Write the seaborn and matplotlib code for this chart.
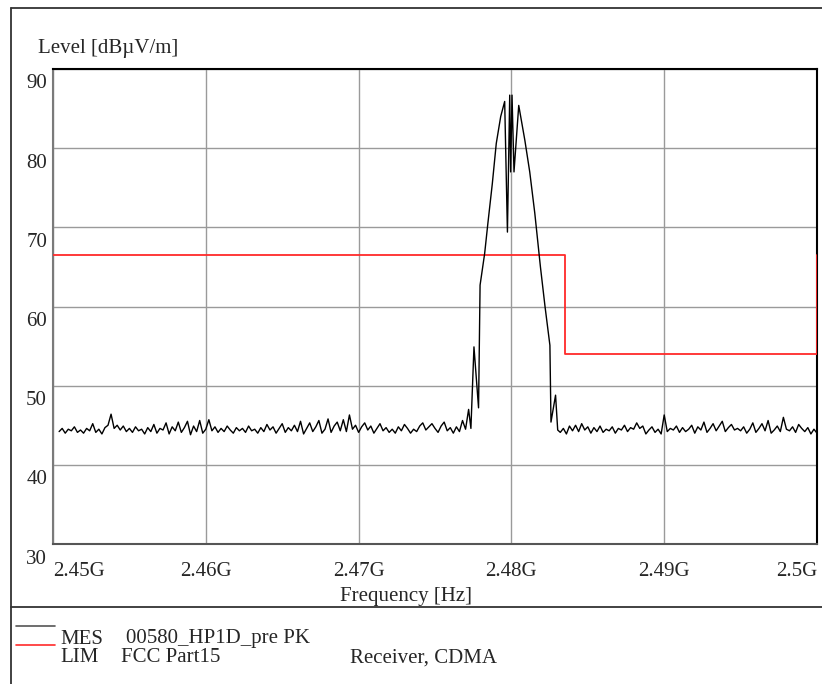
import numpy as np
import pandas as pd
import matplotlib
matplotlib.use("Agg")
import matplotlib.pyplot as plt
from matplotlib.lines import Line2D
from matplotlib import transforms
import seaborn as sns

sns.set_style("white")
plt.rcParams["font.family"] = ["Liberation Serif", "DejaVu Serif"]

# ---------------- data ----------------
# left noise floor: 2450.4 .. 2477.0 MHz, 0.2 MHz step
noise_left = [
    44.2, 44.6, 44.0, 44.5, 44.3, 44.8, 44.1, 44.4, 44.0, 44.6,
    44.3, 45.2, 44.1, 44.5, 43.9, 44.7, 45.0, 46.4, 44.6, 45.0,
    44.4, 44.9, 44.2, 44.6, 44.1, 44.8, 44.3, 44.5, 43.9, 44.7,
    44.2, 45.1, 44.0, 44.6, 44.4, 45.3, 43.9, 44.8, 44.3, 45.4,
    44.1, 44.7, 45.5, 43.8, 44.9, 44.2, 45.6, 44.0, 44.5, 45.7,
    44.3, 44.8, 44.1, 44.6, 44.2, 44.9, 44.4, 44.0, 44.7, 44.3,
    44.6, 44.1, 44.9, 44.3, 44.5, 44.0, 44.7, 44.2, 45.1, 44.4,
    44.8, 44.0, 44.6, 45.2, 44.1, 44.7, 44.3, 45.0, 44.2, 45.5,
    43.9, 44.6, 45.3, 44.2, 44.8, 45.6, 44.0, 44.5, 45.8, 44.1,
    44.9, 45.4, 44.3, 45.7, 44.2, 46.3, 44.5, 45.0, 44.1, 44.8,
    45.3, 44.4, 44.9, 44.0, 44.6, 45.2, 44.3, 44.7, 44.1, 44.5,
    44.0, 44.8, 44.3, 45.1, 44.6, 44.0, 44.5, 44.2, 44.9, 45.3,
    44.4, 44.8, 45.2, 44.6, 44.1, 44.9, 45.4, 44.3, 44.7, 44.0,
    44.8, 44.2, 45.6, 44.5,
]
# carrier region, explicit frequencies (MHz)
peak_freq = [2477.2, 2477.35, 2477.55, 2477.85, 2477.95, 2478.25, 2478.46,
             2478.75, 2479.01, 2479.30, 2479.56, 2479.74, 2479.89, 2479.95,
             2480.04, 2480.17, 2480.48, 2480.88, 2481.2, 2481.53, 2481.9,
             2482.2, 2482.52, 2482.59, 2482.89, 2483.03]
peak_level = [47.0, 44.6, 54.9, 47.2, 62.7, 66.7, 70.5,
              75.5, 80.6, 84.0, 85.9, 69.4, 86.7, 77.0,
              86.7, 77.0, 85.4, 81.0, 77.0, 71.8, 65.0,
              60.0, 55.1, 45.4, 48.8, 44.4]
# right noise floor: 2483.2 .. 2500.0 MHz, 0.2 MHz step
noise_right = [
    44.1, 44.6, 43.9, 44.9, 44.3, 45.0, 44.2, 45.2, 44.4, 44.8,
    44.0, 44.7, 44.2, 44.9, 44.1, 44.5, 44.3, 44.8, 44.0, 44.6,
    44.4, 45.0, 44.2, 44.7, 44.5, 45.3, 44.6, 44.9, 43.9, 44.4,
    44.8, 44.1, 44.5, 43.9, 46.3, 44.2, 44.6, 44.4, 44.9, 44.1,
    44.7, 44.2, 44.5, 45.0, 44.0, 44.8, 44.4, 45.4, 44.1, 44.6,
    45.2, 44.3, 44.9, 45.5, 44.2, 44.7, 45.1, 44.4, 44.6, 44.3,
    44.8, 44.0, 44.5, 45.3, 44.1, 44.6, 45.2, 44.3, 45.6, 44.0,
    44.4, 44.9, 44.2, 46.0, 44.5, 44.3, 44.8, 44.1, 45.1, 44.6,
    44.2, 44.7, 43.9, 44.5, 44.0,
]
# limit line (FCC Part15)
lim_freq = [2450.0, 2483.5, 2483.5, 2500.0, 2500.0]
lim_level = [66.5, 66.5, 54.0, 54.0, 66.5]

x_ticks = [2450, 2460, 2470, 2480, 2490, 2500]
x_ticklabels = ["2.45G", "2.46G", "2.47G", "2.48G", "2.49G", "2.5G"]
y_ticks = [30, 40, 50, 60, 70, 80, 90]

# ---------------- build frames ----------------
f_left = np.round(2450.4 + 0.2 * np.arange(len(noise_left)), 3)
f_right = np.round(2483.2 + 0.2 * np.arange(len(noise_right)), 3)
mes = pd.DataFrame({
    "freq": np.concatenate([f_left, peak_freq, f_right]) * 1e6,
    "level": np.concatenate([noise_left, peak_level, noise_right]),
})
lim = pd.DataFrame({"freq": np.array(lim_freq) * 1e6, "level": lim_level})

W, H = 822, 684
fig = plt.figure(figsize=(W / 100, H / 100), dpi=100)
ax = fig.add_axes([53 / W, (H - 544) / H, (817 - 53) / W, (544 - 69) / H])

sns.lineplot(data=lim, x="freq", y="level", estimator=None, sort=False,
             color="#ff2a2a", lw=1.3, ax=ax, zorder=3)
sns.lineplot(data=mes, x="freq", y="level", estimator=None, sort=False,
             color="black", lw=1.0, ax=ax, zorder=4)

ax.set_xlim(2450e6, 2500e6)
ax.set_ylim(30, 90)
ax.set_xticks([v * 1e6 for v in x_ticks])
ax.set_yticks(y_ticks)
ax.set_xticklabels([])
ax.set_yticklabels([])
ax.tick_params(length=0)
ax.set_xlabel("")
ax.set_ylabel("")
ax.grid(True, color="#9a9a9a", lw=1.0)
ax.set_axisbelow(True)

for side, col in [("top", "black"), ("right", "black"),
                  ("left", "#7a7a7a"), ("bottom", "#555555")]:
    ax.spines[side].set_visible(True)
    ax.spines[side].set_color(col)
    ax.spines[side].set_linewidth(1.5)

FS = 15
# y tick labels (placed slightly below gridlines)
ytr = transforms.offset_copy(ax.get_yaxis_transform(), fig=fig, x=-6, y=-15, units="dots")
for v in y_ticks:
    ax.text(0, v, str(v), transform=ytr, ha="right", va="center", fontsize=FS)

# x tick labels
xtr = transforms.offset_copy(ax.get_xaxis_transform(), fig=fig, x=0, y=-27, units="dots")
for i, (v, lab) in enumerate(zip(x_ticks, x_ticklabels)):
    ha = "left" if i == 0 else ("right" if i == len(x_ticks) - 1 else "center")
    ax.text(v * 1e6, 0, lab, transform=xtr, ha=ha, va="center", fontsize=FS)

fig.text(406 / W, 1 - 596 / H, "Frequency [Hz]", ha="center", va="center", fontsize=FS)
fig.text(38 / W, 1 - 49 / H, "Level [dBµV/m]", ha="left", va="center", fontsize=FS)

# outer frame and separator
def fl(x0, y0, x1, y1, **kw):
    fig.add_artist(Line2D([x0 / W, x1 / W], [1 - y0 / H, 1 - y1 / H],
                          transform=fig.transFigure, **kw))

fl(11, 8, 11, H + 2, color="#333333", lw=1.3)
fl(11, 8, W + 2, 8, color="#333333", lw=1.3)
fl(11, 607, W + 2, 607, color="#333333", lw=1.3)

# legend block
fl(16, 626, 55, 626, color="#555555", lw=1.2)
fl(16, 645, 55, 645, color="#ff2a2a", lw=1.2)
fig.text(60 / W, 1 - 639 / H, "MES", ha="left", va="center", fontsize=FS)
fig.text(126 / W, 1 - 639 / H, "00580_HP1D_pre PK", ha="left", va="center", fontsize=FS)
fig.text(60 / W, 1 - 658 / H, "LIM", ha="left", va="center", fontsize=FS)
fig.text(121 / W, 1 - 658 / H, "FCC Part15", ha="left", va="center", fontsize=FS)
fig.text(350 / W, 1 - 658 / H, "Receiver, CDMA", ha="left", va="center", fontsize=FS)

fig.savefig("out.png", dpi=100, facecolor="white")
